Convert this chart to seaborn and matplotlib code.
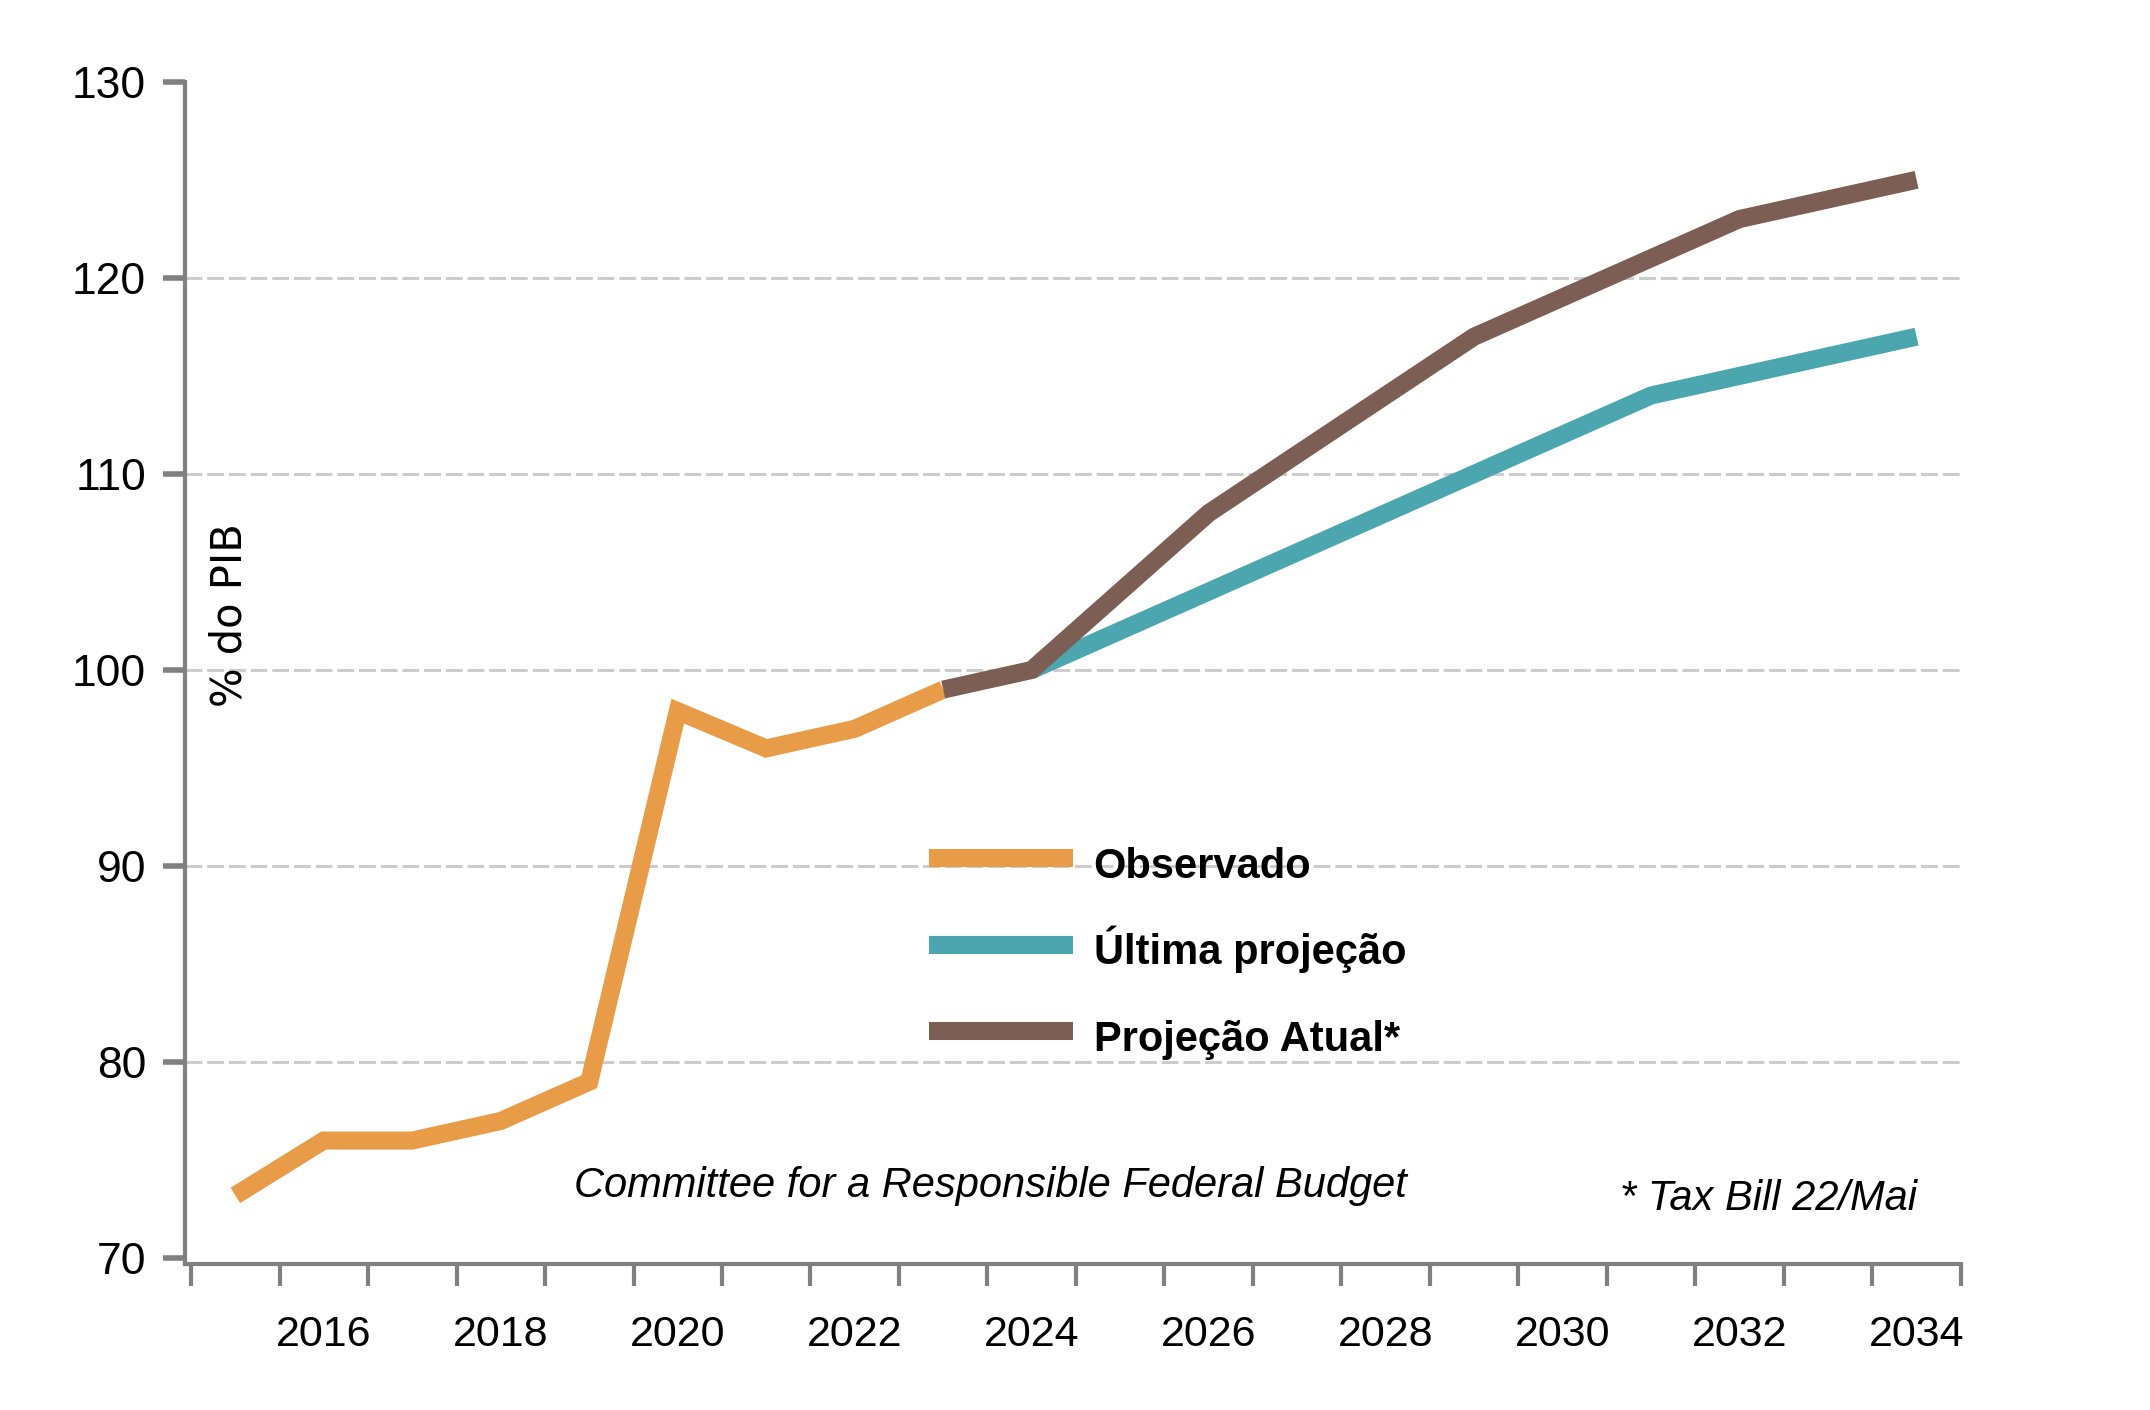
import numpy as np
import pandas as pd
import matplotlib
matplotlib.use("Agg")
import matplotlib.pyplot as plt
import seaborn as sns

# dados (% do PIB)
anos_obs = [2015, 2016, 2017, 2018, 2019, 2020, 2021, 2022, 2023]
observado = [73.2, 76, 76, 77, 79, 97.9, 96, 97, 99]

anos_ult = [2024, 2025, 2026, 2027, 2028, 2029, 2030, 2031, 2032, 2033, 2034]
ultima = [100, 102, 104, 106, 108, 110, 112, 114, 115, 116, 117]

anos_atual = [2023, 2024, 2025, 2026, 2027, 2028, 2029, 2030, 2031, 2032, 2033, 2034]
atual = [99, 100, 104, 108, 111, 114, 117, 119, 121, 123, 124, 125]

series = ["Observado", "Última projeção", "Projeção Atual*"]
cores = ["#E89C48", "#4BA6AF", "#7D5E55"]
anos_label = [2016, 2018, 2020, 2022, 2024, 2026, 2028, 2030, 2032, 2034]
y_ticks = [70, 80, 90, 100, 110, 120, 130]

df = pd.concat([
    pd.DataFrame({"ano": anos_obs, "valor": observado, "serie": series[0]}),
    pd.DataFrame({"ano": anos_ult, "valor": ultima, "serie": series[1]}),
    pd.DataFrame({"ano": anos_atual, "valor": atual, "serie": series[2]}),
])

sns.set_style("white")
fonte = ["Liberation Sans", "DejaVu Sans"]
plt.rcParams["font.family"] = fonte
plt.rcParams["text.color"] = "black"
plt.rcParams["xtick.labelcolor"] = "black"
plt.rcParams["ytick.labelcolor"] = "black"

fig = plt.figure(figsize=(21.5, 14.1), dpi=100)
ax = fig.add_axes([0.086, 0.1035, 0.826, 0.8385])

ax.set_xlim(2014.43, 2034.5)
ax.set_ylim(69.7, 130)

# grade tracejada
for v in y_ticks[1:-1]:
    ax.axhline(v, color="#cccccc", lw=2.2, dashes=(5.5, 1.6), zorder=0)

sns.lineplot(data=df, x="ano", y="valor", hue="serie", hue_order=series,
             palette=cores, linewidth=13, ax=ax, legend=True, sort=True)
for l in ax.get_lines()[5:]:
    l.set_linewidth(13)
    l.set_solid_capstyle("butt")
    l.set_solid_joinstyle("miter")

handles, labels = ax.get_legend_handles_labels()
leg = ax.legend(handles, labels, loc="upper left", bbox_to_anchor=(0.419, 0.360),
                frameon=False, borderpad=0, borderaxespad=0,
                handlelength=3.45, handleheight=1.5, handletextpad=0.5,
                labelspacing=0.86,
                prop={"family": fonte, "weight": "bold", "size": 30})
for l in leg.get_lines():
    l.set_linewidth(13)
    l.set_solid_capstyle("butt")

# eixos
for s in ["top", "right"]:
    ax.spines[s].set_visible(False)
for s in ["left", "bottom"]:
    ax.spines[s].set_color("#808080")
    ax.spines[s].set_linewidth(3)

ax.set_yticks(y_ticks)
ax.tick_params(axis="y", length=16, width=4, color="#808080", pad=12,
               labelsize=32, direction="out", left=True)
ax.set_xticks(np.arange(2014.5, 2035, 1))
ax.set_xticklabels([])
ax.set_xticks(anos_label, minor=True)
ax.set_xticklabels([str(a) for a in anos_label], minor=True)
ax.tick_params(axis="x", which="major", length=16, width=3, color="#808080",
               direction="out", bottom=True)
ax.tick_params(axis="x", which="minor", length=0, pad=37, labelsize=31, bottom=True)
ax.set_xlabel("")
ax.set_ylabel("")

ax.text(0.025, 102.8, "% do PIB", rotation=90, ha="center", va="center",
        fontsize=30, family="DejaVu Sans",
        transform=ax.get_yaxis_transform())

ax.text(2023.53, 73.7, "Committee for a Responsible Federal Budget",
        ha="center", va="center", fontsize=30, style="italic")
ax.text(2034.0, 73.0, "* Tax Bill 22/Mai", ha="right", va="center",
        fontsize=30, style="italic")

fig.savefig("out.png", dpi=100, facecolor="white")
